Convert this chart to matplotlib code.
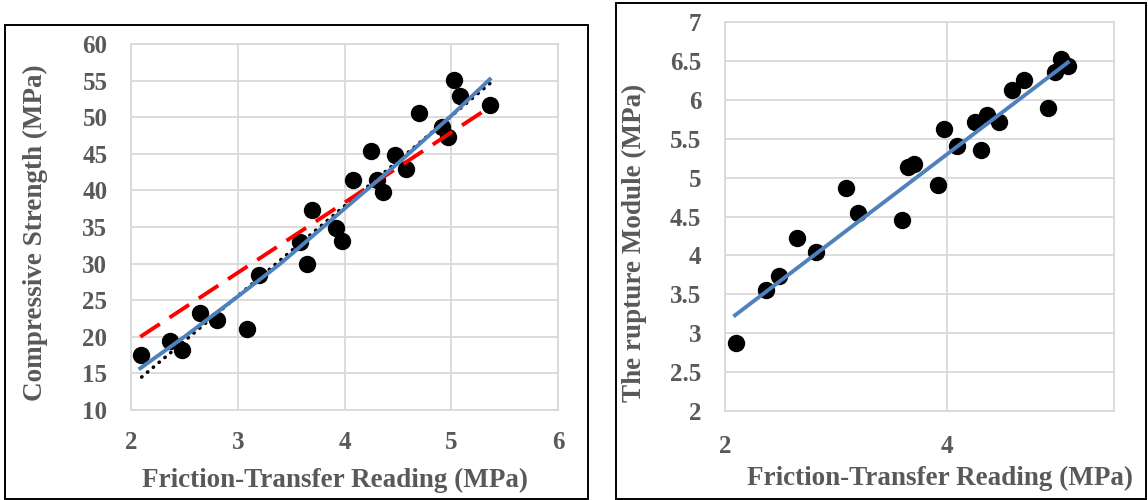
import matplotlib
matplotlib.use("Agg")
import matplotlib.pyplot as plt
from matplotlib.patches import Rectangle

# ---- Data ----
ftr_left = [2.094, 2.368, 2.48, 2.65, 2.81, 3.09, 3.20, 3.585, 3.647, 3.697, 3.92, 3.975,
            4.084, 4.25, 4.30, 4.36, 4.47, 4.58, 4.70, 4.91, 4.97, 5.03, 5.08, 5.36]
compressive = [17.5, 19.45, 18.2, 23.3, 22.3, 21.0, 28.4, 32.95, 30.0, 37.3, 34.9, 33.05,
               41.45, 45.4, 41.45, 39.8, 44.9, 42.95, 50.6, 48.7, 47.3, 55.1, 52.95, 51.7]

# solid blue trend curve (read at several x positions)
blue_fit_x = [2.087, 2.5, 3.0, 3.4, 4.0, 4.5, 5.0, 5.361]
blue_fit_y = [15.7, 20.0, 25.5, 30.0, 37.5, 43.7, 50.2, 55.18]
# red dashed trend line
red_fit_x = [2.087, 5.363]
red_fit_y = [20.0, 51.4]
# black dotted trend line
dot_fit_x = [2.10, 5.361]
dot_fit_y = [14.5, 54.6]

ftr_right = [2.096, 2.372, 2.486, 2.65, 2.82, 3.09, 3.198, 3.589, 3.643, 3.697, 3.919, 3.973,
             4.087, 4.249, 4.303, 4.357, 4.465, 4.579, 4.687, 4.91, 4.966, 5.025, 5.085]
rupture = [2.88, 3.56, 3.74, 4.23, 4.05, 4.86, 4.55, 4.46, 5.13, 5.18, 4.91, 5.63,
           5.40, 5.72, 5.35, 5.81, 5.71, 6.13, 6.25, 5.90, 6.36, 6.52, 6.44]
rup_fit_x = [2.09, 5.085]
rup_fit_y = [3.23, 6.48]

left_xticks = [2, 3, 4, 5, 6]
left_yticks = [10, 15, 20, 25, 30, 35, 40, 45, 50, 55, 60]
right_xticks = [2, 4]
right_yticks = [2, 2.5, 3, 3.5, 4, 4.5, 5, 5.5, 6, 6.5, 7]
right_ytick_labels = ["2", "2.5", "3", "3.5", "4", "4.5", "5", "5.5", "6", "6.5", "7"]

xlabel = "Friction-Transfer Reading (MPa)"
ylabel_left = "Compressive Strength (MPa)"
ylabel_right = "The rupture Module (MPa)"

# ---- Style ----
TXT = "#595959"
GRID = "#d9d9d9"
BLUE = "#4F81BD"
FONT = "Liberation Serif"
W, H = 1148, 500

fig = plt.figure(figsize=(W / 100, H / 100), dpi=100)

def px_axes(x0, y0, x1, y1):
    return fig.add_axes([x0 / W, 1 - y1 / H, (x1 - x0) / W, (y1 - y0) / H])

def style(ax):
    ax.grid(True, color=GRID, linewidth=1.3)
    ax.set_axisbelow(True)
    for s in ax.spines.values():
        s.set_color(GRID)
        s.set_linewidth(1.3)
    ax.tick_params(length=0, labelsize=18, labelcolor=TXT)
    for lab in ax.get_xticklabels() + ax.get_yticklabels():
        lab.set_fontfamily(FONT)
        lab.set_fontweight("bold")

# frames
fig.patches.append(Rectangle((5 / W, 1 - 499 / H), (588 - 5) / W, (499 - 25) / H,
                             transform=fig.transFigure, fill=False, edgecolor="black", linewidth=1.4))
fig.patches.append(Rectangle((616 / W, 1 - 499 / H), (1146 - 616) / W, (499 - 3) / H,
                             transform=fig.transFigure, fill=False, edgecolor="black", linewidth=1.4))

# ---- Left panel ----
ax1 = px_axes(131, 44, 558, 410)
ax1.set_xlim(2, 6)
ax1.set_ylim(10, 60)
ax1.set_xticks(left_xticks)
ax1.set_yticks(left_yticks)
ax1.plot(ftr_left, compressive, "o", color="black", markersize=11.5, zorder=2)
ax1.plot(dot_fit_x, dot_fit_y, color="black", linewidth=2.6, dashes=(0.1, 2.0),
         dash_capstyle="round", zorder=3)
ax1.plot(red_fit_x, red_fit_y, color="#FF0000", linewidth=2.8, dashes=(6, 3), zorder=4)
ax1.plot(blue_fit_x, blue_fit_y, color=BLUE, linewidth=2.8, zorder=5)
ax1.tick_params(axis="y", pad=17)
ax1.tick_params(axis="x", pad=15)
style(ax1)

# ---- Right panel ----
ax2 = px_axes(725, 22, 1114, 411)
ax2.set_xlim(2, 5.5)
ax2.set_ylim(2, 7)
ax2.set_xticks(right_xticks)
ax2.set_yticks(right_yticks)
ax2.set_yticklabels(right_ytick_labels)
ax2.plot(ftr_right, rupture, "o", color="black", markersize=11.5, zorder=2)
ax2.plot(rup_fit_x, rup_fit_y, color=BLUE, linewidth=2.8, zorder=5)
ax2.tick_params(axis="y", pad=17)
ax2.tick_params(axis="x", pad=17)
style(ax2)

# ---- Axis titles ----
kw = dict(fontfamily=FONT, fontweight="bold", fontsize=19.5, color=TXT, ha="center", va="center")
fig.text(335 / W, 1 - 480 / H, xlabel, **kw)
fig.text(940 / W, 1 - 478 / H, xlabel, **kw)
fig.text(35 / W, 1 - 233 / H, ylabel_left, rotation=90, **kw)
fig.text(634 / W, 1 - 243 / H, ylabel_right, rotation=90, **kw)

fig.savefig("out.png", dpi=100)
